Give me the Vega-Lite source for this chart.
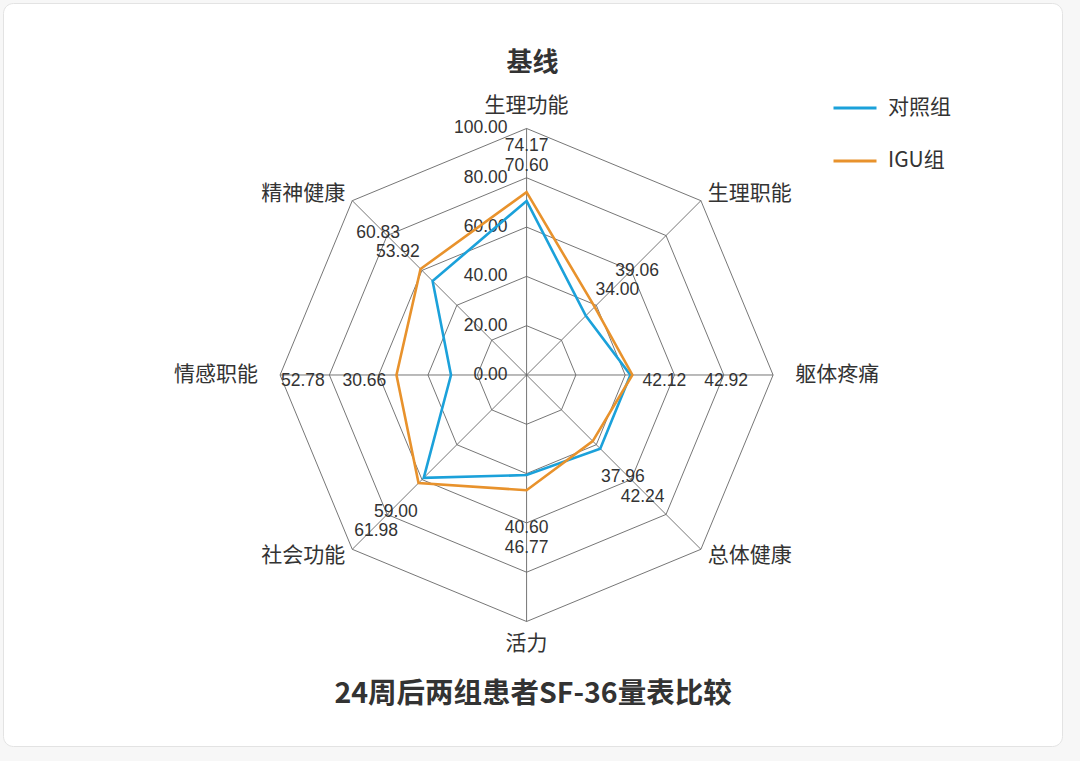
{
  "$schema": "https://vega.github.io/schema/vega-lite/v6.json",
  "width": 1059,
  "height": 743,
  "autosize": "none",
  "padding": {"left": 3, "top": 3, "right": 18, "bottom": 15},
  "background": "#f7f7f7",
  "title": {
    "text": "基线",
    "frame": "group",
    "anchor": "middle",
    "baseline": "middle",
    "offset": -86,
    "font": "Noto Sans CJK SC",
    "fontSize": 26,
    "fontWeight": "bold",
    "color": "#333333"
  },
  "datasets": {
    "scores": [
      {"axis": "生理功能", "idx": 0, "group": "对照组", "value": 70.60},
      {"axis": "生理职能", "idx": 1, "group": "对照组", "value": 34.00},
      {"axis": "躯体疼痛", "idx": 2, "group": "对照组", "value": 42.12},
      {"axis": "总体健康", "idx": 3, "group": "对照组", "value": 42.24},
      {"axis": "活力", "idx": 4, "group": "对照组", "value": 40.60},
      {"axis": "社会功能", "idx": 5, "group": "对照组", "value": 59.00},
      {"axis": "情感职能", "idx": 6, "group": "对照组", "value": 30.66},
      {"axis": "精神健康", "idx": 7, "group": "对照组", "value": 53.92},
      {"axis": "生理功能", "idx": 0, "group": "IGU组", "value": 74.17},
      {"axis": "生理职能", "idx": 1, "group": "IGU组", "value": 39.06},
      {"axis": "躯体疼痛", "idx": 2, "group": "IGU组", "value": 42.92},
      {"axis": "总体健康", "idx": 3, "group": "IGU组", "value": 37.96},
      {"axis": "活力", "idx": 4, "group": "IGU组", "value": 46.77},
      {"axis": "社会功能", "idx": 5, "group": "IGU组", "value": 61.98},
      {"axis": "情感职能", "idx": 6, "group": "IGU组", "value": 52.78},
      {"axis": "精神健康", "idx": 7, "group": "IGU组", "value": 60.83}
    ],
    "axes": [
      {"axis": "生理功能", "idx": 0},
      {"axis": "生理职能", "idx": 1},
      {"axis": "躯体疼痛", "idx": 2},
      {"axis": "总体健康", "idx": 3},
      {"axis": "活力", "idx": 4},
      {"axis": "社会功能", "idx": 5},
      {"axis": "情感职能", "idx": 6},
      {"axis": "精神健康", "idx": 7}
    ],
    "levels": [
      {"level": 0}, {"level": 20}, {"level": 40}, {"level": 60}, {"level": 80}, {"level": 100}
    ]
  },
  "resolve": {"axis": {"x": "independent"}},
  "layer": [
    {
      "data": {"name": "axes"},
      "transform": [
        {"calculate": "datum.idx * PI / 4", "as": "ang"},
        {"calculate": "100 * sin(datum.ang)", "as": "x"},
        {"calculate": "100 * cos(datum.ang)", "as": "y"}
      ],
      "mark": {"type": "rule", "color": "#666666", "strokeWidth": 0.9},
      "encoding": {
        "x": {
          "field": "x",
          "type": "quantitative",
          "scale": {"domain": [-212.4, 217.2], "nice": false, "zero": false},
          "axis": {
            "title": "24周后两组患者SF-36量表比较",
            "domain": false,
            "ticks": false,
            "labels": false,
            "grid": false,
            "titleFont": "Noto Sans CJK SC",
            "titleFontSize": 28.5,
            "titleFontWeight": "bold",
            "titleColor": "#333333",
            "titleBaseline": "middle",
            "titleY": -53
          }
        },
        "y": {
          "field": "y",
          "type": "quantitative",
          "scale": {"domain": [-150.5, 150.9], "nice": false, "zero": false},
          "axis": null
        },
        "x2": {"datum": 0},
        "y2": {"datum": 0}
      }
    },
    {
      "data": {"name": "axes"},
      "transform": [
        {"calculate": "[20, 40, 60, 80, 100]", "as": "lv"},
        {"flatten": ["lv"]},
        {"calculate": "datum.idx * PI / 4", "as": "ang"},
        {"calculate": "datum.lv * sin(datum.ang)", "as": "x"},
        {"calculate": "datum.lv * cos(datum.ang)", "as": "y"}
      ],
      "mark": {"type": "line", "interpolate": "linear-closed", "color": "#666666", "strokeWidth": 0.9},
      "encoding": {
        "x": {"field": "x", "type": "quantitative", "axis": null},
        "y": {"field": "y", "type": "quantitative", "axis": null},
        "detail": {"field": "lv", "type": "nominal"},
        "order": {"field": "idx", "type": "quantitative"}
      }
    },
    {
      "data": {"name": "levels"},
      "mark": {"type": "text", "align": "right", "baseline": "middle", "dx": -19, "font": "Liberation Sans", "fontSize": 17.5, "color": "#333333"},
      "encoding": {
        "x": {"datum": 0, "type": "quantitative", "axis": null},
        "y": {"field": "level", "type": "quantitative", "axis": null},
        "text": {"field": "level", "type": "quantitative", "format": ".2f"}
      }
    },
    {
      "data": {"name": "scores"},
      "transform": [
        {"calculate": "datum.idx * PI / 4", "as": "ang"},
        {"calculate": "datum.value * sin(datum.ang)", "as": "x"},
        {"calculate": "datum.value * cos(datum.ang)", "as": "y"}
      ],
      "mark": {"type": "line", "interpolate": "linear-closed", "strokeWidth": 2.6},
      "encoding": {
        "x": {"field": "x", "type": "quantitative", "axis": null},
        "y": {"field": "y", "type": "quantitative", "axis": null},
        "order": {"field": "idx", "type": "quantitative"},
        "color": {
          "field": "group",
          "type": "nominal",
          "scale": {"domain": ["对照组", "IGU组"], "range": ["#1ba1da", "#e8922c"]},
          "legend": {
            "title": null,
            "orient": "none",
            "legendX": 829,
            "legendY": 82,
            "padding": 0,
            "symbolType": "stroke",
            "symbolSize": 1849,
            "symbolStrokeWidth": 3,
            "labelFont": "Noto Sans CJK SC",
            "labelFontSize": 21,
            "labelColor": "#333333",
            "labelOffset": 10,
            "rowPadding": 20
          }
        }
      }
    },
    {
      "data": {"name": "scores"},
      "transform": [
        {"joinaggregate": [{"op": "max", "field": "value", "as": "vmax"}], "groupby": ["axis"]},
        {"calculate": "datum.idx * PI / 4", "as": "ang"},
        {"calculate": "datum.vmax + 13 + (datum.value == datum.vmax ? min(25, 8 / max(abs(cos(datum.ang)), 0.01)) : 0)", "as": "lr"},
        {"calculate": "datum.lr * sin(datum.ang)", "as": "x"},
        {"calculate": "datum.lr * cos(datum.ang)", "as": "y"}
      ],
      "mark": {"type": "text", "align": "center", "baseline": "middle", "dy": 6, "font": "Liberation Sans", "fontSize": 17.5, "color": "#333333"},
      "encoding": {
        "x": {"field": "x", "type": "quantitative", "axis": null},
        "y": {"field": "y", "type": "quantitative", "axis": null},
        "text": {"field": "value", "type": "quantitative", "format": ".2f"}
      }
    },
    {
      "data": {"name": "axes"},
      "transform": [
        {"calculate": "datum.idx * PI / 4", "as": "ang"},
        {"calculate": "datum.idx % 2 == 0 ? 109 : 104", "as": "lr"},
        {"calculate": "datum.lr * sin(datum.ang)", "as": "x"},
        {"calculate": "datum.lr * cos(datum.ang)", "as": "y"},
        {"filter": "abs(datum.x) < 1"}
      ],
      "mark": {"type": "text", "align": "center", "baseline": "middle", "font": "Noto Sans CJK SC", "fontSize": 21, "color": "#333333"},
      "encoding": {
        "x": {"field": "x", "type": "quantitative", "axis": null},
        "y": {"field": "y", "type": "quantitative", "axis": null},
        "text": {"field": "axis"}
      }
    },
    {
      "data": {"name": "axes"},
      "transform": [
        {"calculate": "datum.idx * PI / 4", "as": "ang"},
        {"calculate": "datum.idx % 2 == 0 ? 109 : 104", "as": "lr"},
        {"calculate": "datum.lr * sin(datum.ang)", "as": "x"},
        {"calculate": "datum.lr * cos(datum.ang)", "as": "y"},
        {"filter": "datum.x >= 1"}
      ],
      "mark": {"type": "text", "align": "left", "baseline": "middle", "font": "Noto Sans CJK SC", "fontSize": 21, "color": "#333333"},
      "encoding": {
        "x": {"field": "x", "type": "quantitative", "axis": null},
        "y": {"field": "y", "type": "quantitative", "axis": null},
        "text": {"field": "axis"}
      }
    },
    {
      "data": {"name": "axes"},
      "transform": [
        {"calculate": "datum.idx * PI / 4", "as": "ang"},
        {"calculate": "datum.idx % 2 == 0 ? 109 : 104", "as": "lr"},
        {"calculate": "datum.lr * sin(datum.ang)", "as": "x"},
        {"calculate": "datum.lr * cos(datum.ang)", "as": "y"},
        {"filter": "datum.x <= -1"}
      ],
      "mark": {"type": "text", "align": "right", "baseline": "middle", "font": "Noto Sans CJK SC", "fontSize": 21, "color": "#333333"},
      "encoding": {
        "x": {"field": "x", "type": "quantitative", "axis": null},
        "y": {"field": "y", "type": "quantitative", "axis": null},
        "text": {"field": "axis"}
      }
    }
  ],
  "config": {
    "view": {"fill": "#ffffff", "stroke": "#e3e3e3", "cornerRadius": 10}
  }
}
